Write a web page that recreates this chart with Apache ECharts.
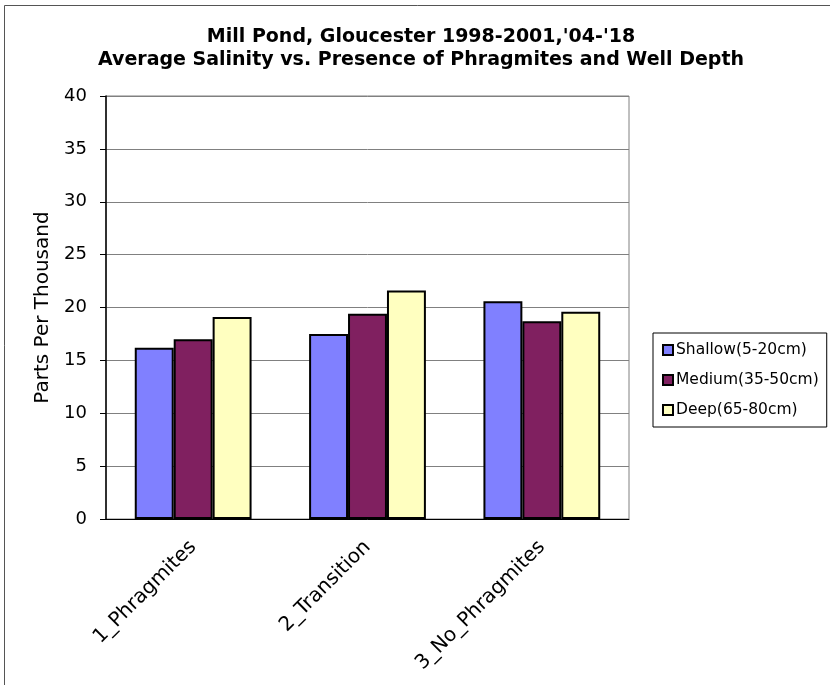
<!DOCTYPE html>
<html>
<head>
<meta charset="utf-8">
<script src="https://cdn.jsdelivr.net/npm/echarts@6/dist/echarts.min.js"></script>
<style>html,body{margin:0;padding:0;background:#fff;}#c{width:830px;height:685px;}</style>
</head>
<body>
<div id="c"></div>
<script>
var categories = ['1_Phragmites', '2_Transition', '3_No_Phragmites'];
var seriesNames = ['Shallow(5-20cm)', 'Medium(35-50cm)', 'Deep(65-80cm)'];
var shallow = [16.2, 17.5, 20.6];
var medium = [17.0, 19.4, 18.7];
var deep = [19.1, 21.6, 19.6];
var yTicks = [0, 5, 10, 15, 20, 25, 30, 35, 40];
var colors = ['#8080FF', '#802060', '#FFFFC0'];
var font = 'DejaVu Sans, Verdana, sans-serif';

var chart = echarts.init(document.getElementById('c'), null, {renderer: 'canvas'});
var values = [shallow, medium, deep];
var series = seriesNames.map(function (n, i) {
  return {
    name: n, type: 'bar', data: values[i],
    barGap: '0%', barCategoryGap: '33%',
    itemStyle: {color: colors[i], borderColor: '#000', borderWidth: 2},
    emphasis: {disabled: true}
  };
});
chart.setOption({
  animation: false,
  backgroundColor: '#fff',
  title: {
    text: "Mill Pond, Gloucester 1998-2001,'04-'18\nAverage Salinity vs. Presence of Phragmites and Well Depth",
    left: 421, top: 26, textAlign: 'center', padding: 0,
    textStyle: {fontFamily: font, fontWeight: 'bold', fontSize: 19, color: '#000', lineHeight: 23}
  },
  graphic: [
    {type: 'line', shape: {x1: 4.5, y1: 5.5, x2: 4.5, y2: 700}, style: {stroke: '#555', lineWidth: 1}},
    {type: 'line', shape: {x1: 4.5, y1: 5.5, x2: 840, y2: 5.5}, style: {stroke: '#555', lineWidth: 1}}
  ],
  legend: {
    orient: 'vertical', left: 653, top: 333,
    padding: [9, 8, 9, 9], itemGap: 14,
    itemWidth: 10, itemHeight: 10,
    borderColor: '#000', borderWidth: 1,
    data: seriesNames.map(function (n) { return {name: n, icon: 'rect'}; }),
    textStyle: {fontFamily: font, fontSize: 15.5, color: '#000', padding: [0, 0, 0, -2]}
  },
  grid: {
    left: 106, top: 96, right: 201, bottom: 166,
    show: true, borderColor: '#808080', borderWidth: 1, backgroundColor: 'transparent'
  },
  xAxis: {
    type: 'category', data: categories,
    axisLine: {lineStyle: {color: '#000', width: 1}},
    axisTick: {show: false},
    axisLabel: {rotate: 45, fontFamily: font, fontSize: 20, color: '#000', margin: 25}
  },
  yAxis: {
    type: 'value', min: yTicks[0], max: yTicks[yTicks.length - 1], interval: 5,
    name: 'Parts Per Thousand', nameLocation: 'middle', nameGap: 51,
    nameTextStyle: {fontFamily: font, fontSize: 20, color: '#000'},
    axisLine: {show: true, lineStyle: {color: '#000', width: 1.5}},
    axisTick: {show: true, length: 6, lineStyle: {color: '#000'}},
    splitLine: {lineStyle: {color: '#808080', width: 1}},
    axisLabel: {fontFamily: font, fontSize: 18, color: '#000', margin: 19}
  },
  series: series
});
</script>
</body>
</html>
